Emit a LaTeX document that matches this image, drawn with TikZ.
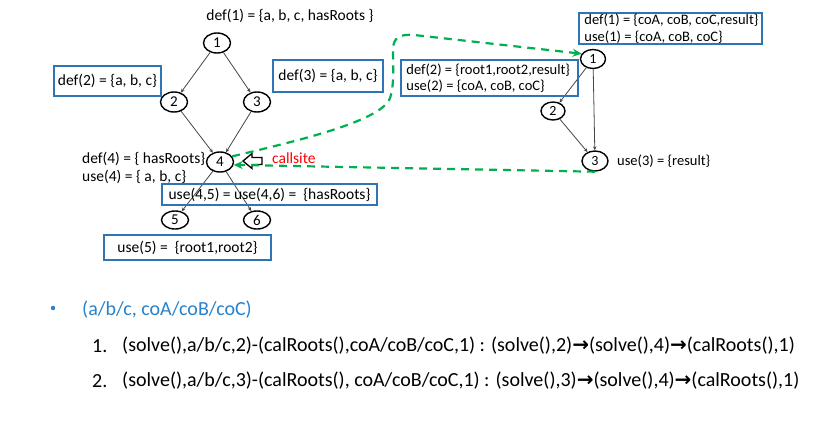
\documentclass[tikz,border=0pt]{standalone}
\usepackage{fontspec}
\setmainfont{Carlito}
\newfontfamily\arrowfont{DejaVu Sans}
\usetikzlibrary{arrows.meta,shapes.geometric}
\definecolor{boxblue}{RGB}{46,117,182}
\definecolor{txtblue}{RGB}{40,130,205}
\definecolor{cgreen}{RGB}{0,176,80}
\definecolor{edgegray}{RGB}{70,70,70}
\newcommand{\ar}{{\arrowfont\bfseries →}}
\begin{document}
\begin{tikzpicture}[x=1pt,y=-1pt,
  vtx/.style={ellipse,draw=black,line width=1.4pt,inner sep=0pt,minimum width=27pt,minimum height=20pt,font=\fontsize{15}{17}\selectfont},
  rvtx/.style={vtx,minimum width=25pt,minimum height=19pt,font=\fontsize{14}{16}\selectfont},
  lbl/.style={inner sep=0pt,font=\fontsize{15.5}{18}\selectfont},
  rlbl/.style={inner sep=0pt,font=\fontsize{14.5}{16.5}\selectfont},
  bx/.style={draw=boxblue,line width=1.5pt,inner sep=0pt},
  edge/.style={draw=edgegray,line width=0.8pt,-{Stealth[length=4pt,width=3.5pt]}},
  gdash/.style={draw=cgreen,line width=2.2pt,dash pattern=on 8pt off 6pt,-{Stealth[length=9pt,width=8pt]}},
  big/.style={inner sep=0pt,anchor=west,font=\fontsize{20}{24}\selectfont}
]
\useasboundingbox (0,0) rectangle (821,436);
\fill[white] (0,0) rectangle (821,436);

% left graph
\node[vtx] (L1) at (217,43) {1};
\node[vtx] (L2) at (174,102) {2};
\node[vtx] (L3) at (257,102) {3};
\node[vtx] (L4) at (220,162) {4};
\node[vtx,minimum height=18pt] (L5) at (175,220) {5};
\node[vtx,minimum height=18pt] (L6) at (257,220) {6};

\draw[edge] (L1) -- (L2);
\draw[edge] (L1) -- (L3);
\draw[edge] (L2) -- (L4);
\draw[edge] (L3) -- (L4);
\draw[edge] (L4) -- (L5);
\draw[edge] (L4) -- (L6);

\node[lbl] (d1) at (290,16) {def(1) = \{a, b, c, hasRoots \}};
\node[bx,lbl,minimum width=107pt,minimum height=30pt] (d2) at (107.5,81) {def(2) = \{a, b, c\}};
\node[bx,lbl,minimum width=110pt,minimum height=32pt] (d3) at (328,76) {def(3) = \{a, b, c\}};
\node[lbl,anchor=west] (d4) at (82,159) {def(4) = \{ hasRoots\}};
\node[lbl,anchor=west] (u4) at (82,177) {use(4) = \{ a, b, c\}};
\node[bx,lbl,minimum width=215pt,minimum height=21pt] (u45) at (269.5,194.5) {use(4,5) = use(4,6) = \ \{hasRoots\}};
\node[bx,lbl,minimum width=167pt,minimum height=25pt] (u5) at (187.5,247.5) {use(5) = \ \{root1,root2\}};

% callsite
\draw[black,line width=1.3pt,fill=white] (243,161) -- (252,153.5) -- (252,157.5) -- (262,157.5) -- (262,164.5) -- (252,164.5) -- (252,168.5) -- cycle;
\node[inner sep=0pt,anchor=west,text=red,font=\fontsize{15.5}{18}\selectfont] (cs) at (272,158) {callsite};

% right graph
\node[rvtx] (R1) at (593,59) {1};
\node[rvtx,minimum width=24pt,minimum height=18pt] (R2) at (553,111) {2};
\node[rvtx,minimum width=26pt,minimum height=20pt] (R3) at (595,161) {3};
\draw[edge] (R1) -- (R2);
\draw[edge] (R2) -- (R3);
\draw[edge] (R1) -- (R3);

\node[bx,minimum width=183pt,minimum height=31pt] (rd1) at (670.5,28.5) {};
\node[rlbl,anchor=west,align=left] (rd1t) at ([xshift=6pt]rd1.west) {def(1) = \{coA, coB, coC,result\}\\use(1) = \{coA, coB, coC\}};
\node[bx,minimum width=177pt,minimum height=36pt] (rd2) at (489.5,78) {};
\node[rlbl,anchor=west,align=left] (rd2t) at ([xshift=6pt]rd2.west) {def(2) = \{root1,root2,result\}\\use(2) = \{coA, coB, coC\}};
\node[rlbl,anchor=west] (ru3) at (617,161) {use(3) = \{result\}};

% green dashed connectors
\draw[gdash] (L4.25) .. controls (310,138) and (372,122) .. (388,102) .. controls (395,92) and (393,62) .. (393,50) .. controls (393,37) and (400,34) .. (414,35) -- (R1.155);
\draw[gdash] (R3.south) -- (L4.-12);

% bottom text
\fill[txtblue] (53,308) circle (2.2pt);
\node[big,text=txtblue] (t0) at (82,310) {(a/b/c, coA/coB/coC)};
\node[big] (n1) at (92,346) {1.};
\node[big] (t1) at (122,346) {(solve(),a/b/c,2)-(calRoots(),coA/coB/coC,1) : (solve(),2)\ar(solve(),4)\ar(calRoots(),1)};
\node[big] (n2) at (92,381) {2.};
\node[big] (t2) at (122,381) {(solve(),a/b/c,3)-(calRoots(), coA/coB/coC,1) : (solve(),3)\ar(solve(),4)\ar(calRoots(),1)};
\end{tikzpicture}
\end{document}
